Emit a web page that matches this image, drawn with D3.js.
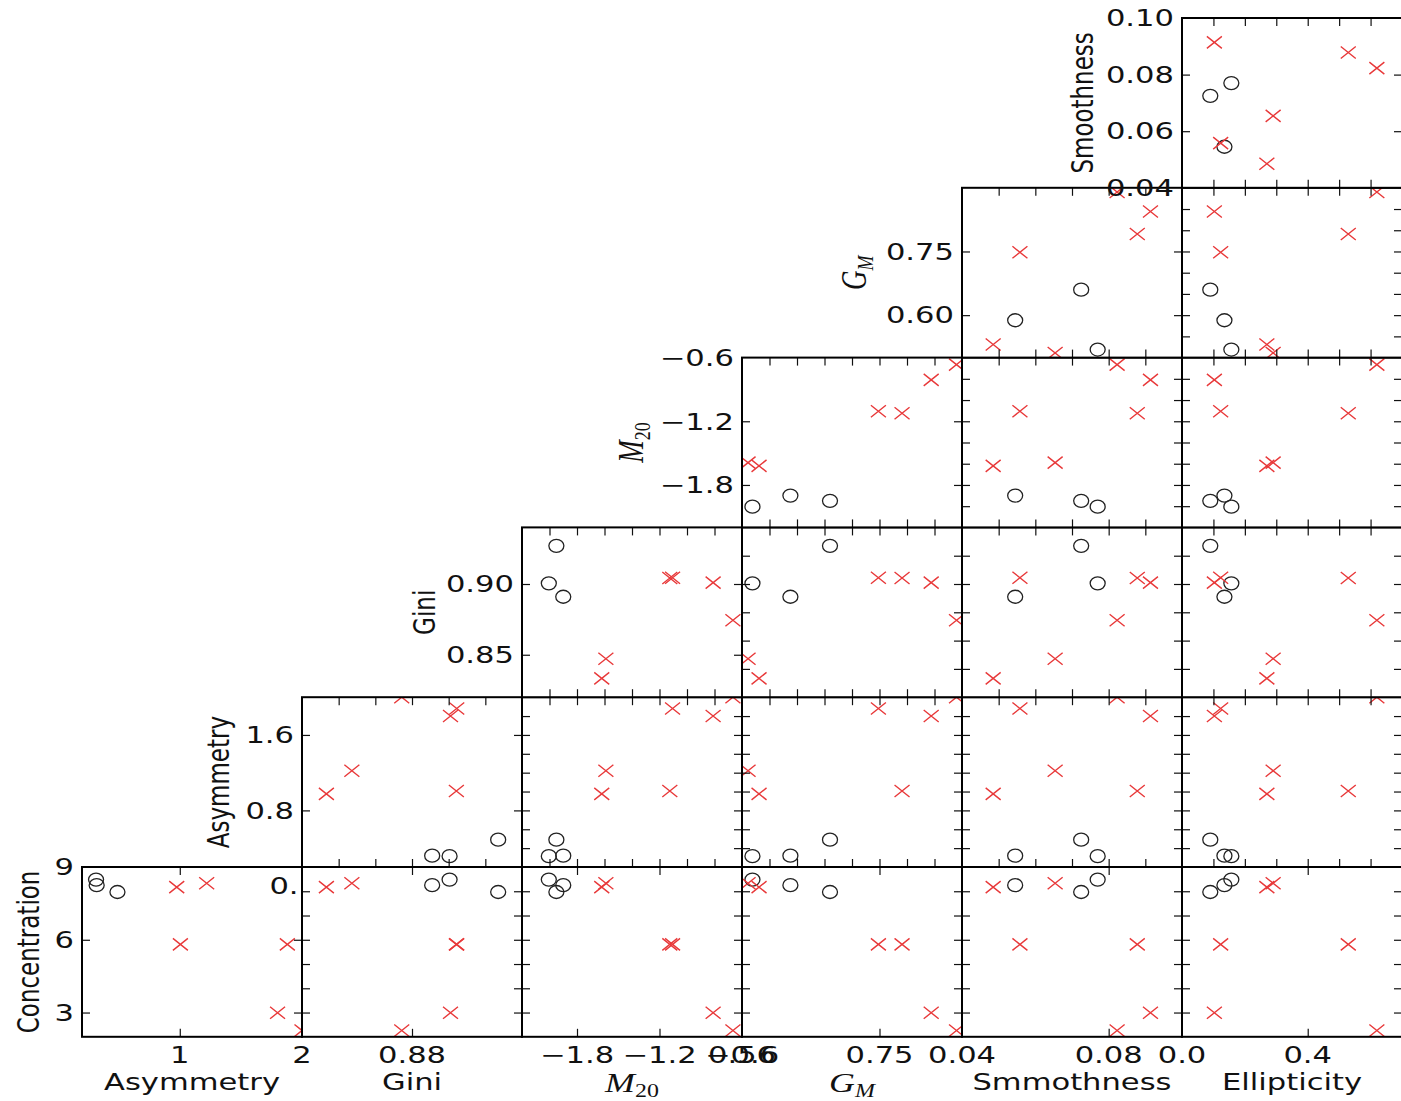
<!DOCTYPE html>
<html>
<head>
<meta charset="utf-8">
<script src="https://cdn.jsdelivr.net/npm/d3@7"></script>
<style>
  body { margin: 0; background: #fff; }
  svg { display: block; }
</style>
</head>
<body>
<svg id="chart" width="1401" height="1101"></svg>
<script>
// Galaxy measurements: 3 black circles, then 6 red crosses
const kind = ['o', 'o', 'o', 'x', 'x', 'x', 'x', 'x', 'x'];
const concentration = [7.97, 8.25, 8.48, 2.99, 5.81, 5.81, 2.26, 8.17, 8.33];
const asymmetry = [0.49, 0.32, 0.315, 1.80, 1.88, 1.005, 2.0, 0.975, 1.22];
const gini = [0.927, 0.891, 0.9005, 0.901, 0.9044, 0.9042, 0.8744, 0.8333, 0.8472];
const m20 = [-1.95, -1.90, -2.005, -0.81, -1.105, -1.125, -0.666, -1.62, -1.59];
const gm = [0.66, 0.588, 0.519, 0.844, 0.748, 0.791, 0.89, 0.531, 0.511];
const smoothness = [0.0725, 0.0545, 0.077, 0.0914, 0.0558, 0.0878, 0.0823, 0.0485, 0.0654];
const ellipticity = [0.09, 0.135, 0.157, 0.103, 0.123, 0.529, 0.62, 0.27, 0.29];

const values = [concentration, asymmetry, gini, m20, gm, smoothness, ellipticity];

// Axis ranges and ticks of each variable
const domains = [[2, 9], [0.2, 2.0], [0.82, 0.94], [-2.2, -0.6], [0.5, 0.9], [0.04, 0.10], [0, 0.7]];
const fineSteps = [1, 0.2, 0.02, 0.2, 0.05, 0.01, 0.1];

const yTickValues = [[3, 6, 9], [0, 0.8, 1.6], [0.85, 0.90], [-0.6, -1.2, -1.8], [0.60, 0.75], [0.04, 0.06, 0.08, 0.10]];
const yTickLabels = [['3', '6', '9'], ['0.0', '0.8', '1.6'], ['0.85', '0.90'], ['−0.6', '−1.2', '−1.8'], ['0.60', '0.75'], ['0.04', '0.06', '0.08', '0.10']];
const xTickValues = [null, [1, 2], [0.88], [-1.8, -1.2, -0.6], [0.5, 0.75], [0.04, 0.08], [0, 0.4]];
const xTickLabels = [null, ['1', '2'], ['0.88'], ['−1.8', '−1.2', '−0.6'], ['0.56', '0.75'], ['0.04', '0.08'], ['0.0', '0.4']];

const xTitles = ['Asymmetry', 'Gini', ['M', '20'], ['G', 'M'], 'Smmothness', 'Ellipticity'];
const yTitles = ['Concentration', 'Asymmetry', 'Gini', ['M', '20'], ['G', 'M'], 'Smoothness'];

// Layout
const gridLeft = 82, gridTop = 18, cw = 220, ch = 169.8;
const tickLen = 8;
const stretch = 1.33;
const fontSize = 23;
const yTitleX = [28, 218, 424, 630, 853, 1082];

const svg = d3.select('#chart');
const defs = svg.append('defs');

const xScale = (i) => d3.scaleLinear().domain(domains[i]).range([gridLeft + (i - 1) * cw, gridLeft + i * cw]);
const yScale = (i) => d3.scaleLinear().domain(domains[i]).range([gridTop + (6 - i) * ch, gridTop + (5 - i) * ch]);

// ticks strictly inside a domain
const inside = (i, list) => list.filter((v) => v > domains[i][0] + 1e-9 && v < domains[i][1] - 1e-9);
const fineTicks = (i) => {
	const [a, b] = domains[i];
	const s = fineSteps[i];
	const out = [];
	for (let n = Math.ceil(a / s - 1e-6); n <= Math.floor(b / s + 1e-6); n++) out.push(+(n * s).toFixed(6));
	return inside(i, out);
};

const drawTicks = (g, axis, transform) => {
	const a = g.append('g').attr('transform', transform).call(axis);
	a.select('.domain').remove();
	a.selectAll('line').attr('stroke', '#111').attr('stroke-width', 1.2);
	a.selectAll('text').remove();
};

// Panels of the lower triangle
for (let r = 0; r < 6; r++) {
	for (let c = r; c < 6; c++) {
		const xi = c + 1, yi = r;
		const x = xScale(xi), y = yScale(yi);
		const [x0, x1] = x.range();
		const [y1, y0] = y.range();
		const g = svg.append('g');

		const clipId = `clip-${r}-${c}`;
		defs.append('clipPath').attr('id', clipId)
			.append('rect').attr('x', x0).attr('y', y0).attr('width', x1 - x0).attr('height', y1 - y0);

		g.append('rect').attr('x', x0).attr('y', y0).attr('width', x1 - x0).attr('height', y1 - y0).attr('fill', '#fff');

		const pts = g.append('g').attr('clip-path', `url(#${clipId})`);
		kind.forEach((k, j) => {
			const px = x(values[xi][j]), py = y(values[yi][j]);
			if (k === 'o') {
				pts.append('ellipse').attr('cx', px).attr('cy', py).attr('rx', 7.5).attr('ry', 6.5)
					.attr('fill', 'none').attr('stroke', '#222').attr('stroke-width', 1.3);
			} else {
				pts.append('path')
					.attr('d', `M${px - 7.5},${py - 6}L${px + 7.5},${py + 6}M${px - 7.5},${py + 6}L${px + 7.5},${py - 6}`)
					.attr('stroke', '#e8393a').attr('stroke-width', 1.4).attr('fill', 'none');
			}
		});

		const xt = r === 0 ? inside(xi, xTickValues[xi]) : fineTicks(xi);
		const yt = c === r ? inside(yi, yTickValues[yi]) : fineTicks(yi);

		drawTicks(g, d3.axisBottom(x).tickValues(xt).tickSize(-tickLen).tickSizeOuter(0), `translate(0,${y1})`);
		drawTicks(g, d3.axisTop(x).tickValues(xt).tickSize(-tickLen).tickSizeOuter(0), `translate(0,${y0})`);
		drawTicks(g, d3.axisLeft(y).tickValues(yt).tickSize(-tickLen).tickSizeOuter(0), `translate(${x0},0)`);
		drawTicks(g, d3.axisRight(y).tickValues(yt).tickSize(-tickLen).tickSizeOuter(0), `translate(${x1},0)`);

		g.append('rect').attr('x', x0).attr('y', y0).attr('width', x1 - x0).attr('height', y1 - y0)
			.attr('fill', 'none').attr('stroke', '#000').attr('stroke-width', 2);
	}
}

// Stretched text helper (the picture is wider than tall)
const label = (parent, px, py, anchor, rotate) => parent.append('text')
	.attr('transform', `translate(${px},${py}) scale(${stretch},1)${rotate ? ' rotate(-90)' : ''}`)
	.attr('text-anchor', anchor)
	.attr('dy', '0.36em')
	.attr('font-family', 'DejaVu Sans')
	.attr('font-size', fontSize)
	.attr('fill', '#111');

const title = (parent, t, px, py, rotate) => {
	const txt = label(parent, px, py, 'middle', rotate);
	if (Array.isArray(t)) {
		txt.attr('font-family', 'Liberation Serif').attr('font-size', 27);
		txt.append('tspan').attr('font-style', 'italic').text(t[0]);
		txt.append('tspan').attr('font-style', t[1] === 'M' ? 'italic' : 'normal')
			.attr('font-size', 18).attr('dy', '0.3em').text(t[1]);
	} else {
		txt.text(t);
	}
};

const texts = svg.append('g');
// the 0.0 label of the Asymmetry row is half hidden behind the next panel
defs.append('clipPath').attr('id', 'clip-asym-label')
	.append('rect').attr('x', 0).attr('y', 0).attr('width', 299).attr('height', 1101);
const hidden = texts.append('g').attr('clip-path', 'url(#clip-asym-label)');

// y tick labels on the first panel of each row
for (let r = 0; r < 6; r++) {
	const y = yScale(r);
	const x0 = gridLeft + r * cw;
	yTickValues[r].forEach((v, k) => {
		if (r === 1 && v === 0) {
			label(hidden, x0 + 16, y(v), 'end', false).text(yTickLabels[r][k]);
		} else {
			label(texts, x0 - 8, y(v), 'end', false).text(yTickLabels[r][k]);
		}
	});
	title(texts, yTitles[r], yTitleX[r], (y.range()[0] + y.range()[1]) / 2, true);
}

// x tick labels and titles under the bottom row
for (let c = 0; c < 6; c++) {
	const xi = c + 1;
	const x = xScale(xi);
	xTickValues[xi].forEach((v, k) => {
		label(texts, x(v), 1055, 'middle', false).text(xTickLabels[xi][k]);
	});
	title(texts, xTitles[c], (x.range()[0] + x.range()[1]) / 2, 1082, false);
}
</script>
</body>
</html>
